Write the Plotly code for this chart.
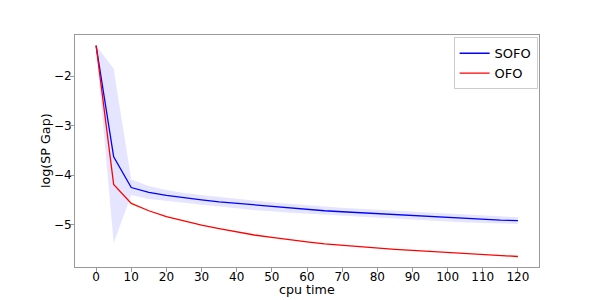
import plotly.graph_objects as go

cpu_time = [0, 5, 10, 15, 20, 25, 30, 35, 40, 45, 50, 55, 60, 65, 70, 75, 80, 85, 90, 95, 100, 105, 110, 115, 120]

sofo_mean = [-1.38, -3.63, -4.25, -4.35, -4.41, -4.46, -4.50, -4.54, -4.57, -4.61, -4.64, -4.67, -4.70,
             -4.72, -4.74, -4.76, -4.78, -4.80, -4.82, -4.84, -4.86, -4.88, -4.89, -4.91, -4.92]
sofo_upper = [-1.38, -1.85, -4.09, -4.22, -4.30, -4.36, -4.40, -4.44, -4.47, -4.51, -4.55, -4.58, -4.61,
              -4.64, -4.66, -4.68, -4.70, -4.72, -4.745, -4.765, -4.785, -4.805, -4.82, -4.84, -4.85]
sofo_lower = [-1.38, -5.37, -4.40, -4.48, -4.52, -4.56, -4.60, -4.64, -4.67, -4.71, -4.73, -4.76, -4.79,
              -4.80, -4.82, -4.84, -4.86, -4.88, -4.895, -4.915, -4.935, -4.955, -4.96, -4.98, -4.99]
ofo_mean = [-1.38, -4.19, -4.57, -4.72, -4.84, -4.93, -5.01, -5.08, -5.15, -5.21, -5.26, -5.31, -5.35,
            -5.39, -5.42, -5.45, -5.47, -5.50, -5.52, -5.54, -5.57, -5.59, -5.61, -5.63, -5.645]

x_ticks = [0, 10, 20, 30, 40, 50, 60, 70, 80, 90, 100, 110, 120]
y_ticks = [-2, -3, -4, -5]
x_title = "cpu time"
y_title = "log(SP Gap)"

FONT = "DejaVu Sans"

fig = go.Figure()
fig.add_trace(go.Scatter(
    x=cpu_time + cpu_time[::-1],
    y=sofo_upper + sofo_lower[::-1],
    fill="toself", fillcolor="rgba(0,0,255,0.1)",
    line=dict(width=0, color="rgba(0,0,255,0)"),
    mode="lines", showlegend=False, hoverinfo="skip"))
fig.add_trace(go.Scatter(x=cpu_time, y=sofo_mean, mode="lines", name="SOFO",
                         line=dict(color="#0000ff", width=1.3)))
fig.add_trace(go.Scatter(x=cpu_time, y=ofo_mean, mode="lines", name="OFO",
                         line=dict(color="#ff0000", width=1.3)))

axis_common = dict(showgrid=False, zeroline=False, showline=True, linecolor="#999999", linewidth=1,
                   mirror=True, ticks="outside", ticklen=4, tickcolor="#999999", tickwidth=1,
                   automargin=False,
                   tickfont=dict(family=FONT, size=12, color="#000000"))

fig.update_layout(
    width=599, height=300,
    margin=dict(l=75, r=60, t=35, b=33, autoexpand=False),
    paper_bgcolor="white", plot_bgcolor="white",
    font=dict(family=FONT, color="#000000"),
    xaxis=dict(range=[-6, 126], tickvals=x_ticks, ticklabelstandoff=-5, **axis_common),
    yaxis=dict(range=[-5.857, -1.167], tickvals=y_ticks, ticklabelstandoff=-4, **axis_common),
    legend=dict(x=0.997, y=0.99, xanchor="right", yanchor="top",
                bgcolor="rgba(255,255,255,0.8)", bordercolor="#cccccc", borderwidth=1,
                font=dict(family=FONT, size=13), tracegroupgap=0, itemwidth=30),
    annotations=[
        dict(text=x_title, xref="paper", yref="paper", x=0.5, y=-(289 - 267) / 232,
             xanchor="center", yanchor="middle", showarrow=False,
             font=dict(family=FONT, size=12.7, color="#000000")),
        dict(text=y_title, xref="paper", yref="paper", x=-(75 - 45) / 464, y=0.5,
             xanchor="center", yanchor="middle", showarrow=False, textangle=-90,
             font=dict(family=FONT, size=12.7, color="#000000")),
    ],
)

fig.write_html("out.html", config={"displayModeBar": False},
               post_script="document.body.style.margin='0';document.body.style.overflow='hidden';")
